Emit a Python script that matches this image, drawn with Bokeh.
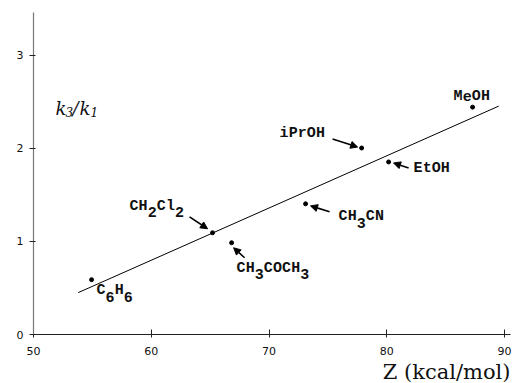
from bokeh.plotting import figure
from bokeh.models import ColumnDataSource, Arrow, NormalHead, FixedTicker, Range1d, Title
from bokeh.embed import file_html
from bokeh.resources import INLINE
from bokeh.core.properties import value

# ---- data ----
solvents = ["C6H6", "CH2Cl2", "CH3COCH3", "CH3CN", "iPrOH", "EtOH", "MeOH"]
z_values = [54.93, 65.2, 66.82, 73.1, 77.86, 80.15, 87.28]
ratio_values = [0.589, 1.093, 0.986, 1.404, 2.004, 1.854, 2.443]

# label anchor (left edge, vertical centre of main letters)
label_z = [55.35, 58.15, 67.24, 75.9, 70.89, 82.27, 85.67]
label_ratio = [0.471, 1.377, 0.7125, 1.264, 2.164, 1.789, 2.561]

# arrows from labels to points
arrow_names = ["CH2Cl2", "CH3COCH3", "iPrOH", "EtOH", "CH3CN"]
arrow_tail_z = [63.25, 67.92, 75.39, 81.85, 75.14]
arrow_tail_ratio = [1.264, 0.825, 2.10, 1.789, 1.318]
arrow_head_z = [64.78, 66.99, 77.52, 80.57, 73.52]
arrow_head_ratio = [1.136, 0.932, 2.014, 1.843, 1.382]

# correlation line end points
fit_z = [53.8, 89.5]
fit_ratio = [0.45, 2.454]

x_ticks = [50, 60, 70, 80, 90]
y_ticks = [0, 1, 2, 3]

y_label_z = 51.87
y_label_ratio = 2.432

# ---- figure ----
p = figure(width=516, height=383,
           x_range=Range1d(50, 90.5), y_range=Range1d(0, 3.46),
           output_backend="svg", toolbar_location=None,
           min_border_left=33, min_border_right=6,
           min_border_top=12, min_border_bottom=48)
p.outline_line_color = None
p.grid.visible = False
p.background_fill_color = "white"
p.border_fill_color = "white"

for ax, ticks in ((p.xaxis, x_ticks), (p.yaxis, y_ticks)):
    ax.ticker = FixedTicker(ticks=ticks)
    ax.minor_tick_line_color = None
    ax.major_label_text_font = "DejaVu Sans"
    ax.major_label_text_font_size = "11px"
    ax.major_label_text_color = "#111111"
    ax.major_tick_line_color = "#222222"

p.xaxis.axis_line_color = "#222222"
p.xaxis.axis_line_width = 1.2
p.xaxis.major_tick_in = 5
p.xaxis.major_tick_out = 3
p.xaxis.major_label_standoff = 9

p.yaxis.axis_line_color = "#777777"
p.yaxis.axis_line_width = 1.2
p.yaxis.major_tick_in = 2
p.yaxis.major_tick_out = 4
p.yaxis.major_label_standoff = 6

# x axis title, right aligned under the axis
p.add_layout(Title(text="Z (kcal/mol)", align="right", standoff=0,
                   text_font="DejaVu Serif", text_font_size="21px",
                   text_font_style="normal", text_color="#111111"), "below")

# line and points
p.line(fit_z, fit_ratio, line_color="black", line_width=1)
p.scatter(z_values, ratio_values, size=4, color="black")

# arrows
asrc = ColumnDataSource(dict(xs=arrow_tail_z, ys=arrow_tail_ratio,
                             xe=arrow_head_z, ye=arrow_head_ratio))
p.add_layout(Arrow(end=NormalHead(size=7, fill_color="black", line_color="black", line_width=1),
                   x_start="xs", y_start="ys", x_end="xe", y_end="ye",
                   line_color="black", line_width=1.6, source=asrc))

# chemical labels, character by character (digits as lowered subscripts)
adv = 9.1
cx, cy, ct, cxo, cyo = [], [], [], [], []
for name, lx, ly in zip(solvents, label_z, label_ratio):
    for i, ch in enumerate(name):
        cx.append(lx)
        cy.append(ly)
        ct.append(ch)
        cxo.append(i * adv)
        cyo.append(6 if ch.isdigit() else 0)
csrc = ColumnDataSource(dict(x=cx, y=cy, t=ct, xo=cxo, yo=cyo))
p.text(x="x", y="y", text="t", x_offset="xo", y_offset="yo", source=csrc,
       text_font=value("Liberation Mono"), text_font_size="15px",
       text_font_style="bold", text_color="#111111",
       text_align="left", text_baseline="middle")

# k3/k1 label inside the plot (italic serif, lowered subscripts)
parts = [("k", 0, 0, "18px"), ("3", 10, 4, "12px"), ("/", 17, 0, "18px"),
         ("k", 24, 0, "18px"), ("1", 35, 4, "12px")]
ksrc = ColumnDataSource(dict(x=[y_label_z] * len(parts), y=[y_label_ratio] * len(parts),
                             t=[q[0] for q in parts], xo=[q[1] for q in parts],
                             yo=[q[2] for q in parts], fs=[q[3] for q in parts]))
p.text(x="x", y="y", text="t", x_offset="xo", y_offset="yo", text_font_size="fs",
       source=ksrc, text_font=value("DejaVu Serif"), text_font_style="italic",
       text_color="#111111", text_align="left", text_baseline="alphabetic")

open("out.html", "w").write(file_html(p, INLINE))
